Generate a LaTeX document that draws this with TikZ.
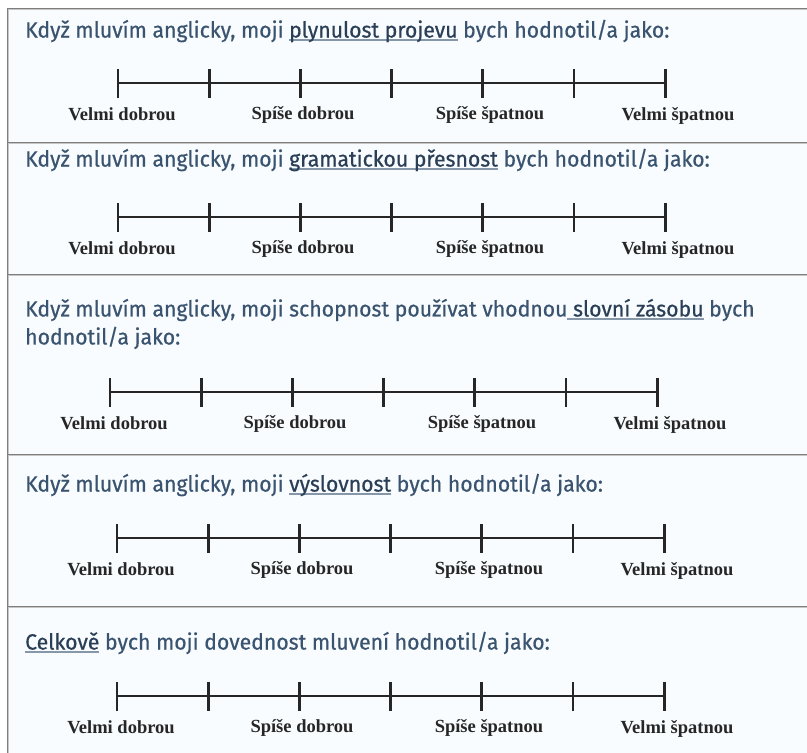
\documentclass[tikz,border=0pt]{standalone}
\usepackage{fontspec}
\setmainfont{Liberation Serif}
\newfontfamily\qfont[FakeStretch=0.965,FakeBold=0.6]{Fira Sans}
\definecolor{qtext}{HTML}{3A5470}
\definecolor{qdark}{HTML}{2A3E56}
\definecolor{ulc}{HTML}{8797AA}
\definecolor{boxbg}{HTML}{F8FCFF}
\definecolor{border}{HTML}{7E7E7E}
\newcommand\qul[1]{\setbox0\hbox{#1}\rlap{\textcolor{ulc}{\rule[-0.3ex]{\wd0}{1.8pt}}}\box0}
\newcommand\qdk[1]{\textcolor{qdark}{#1}}
\tikzset{
  question/.style={anchor=west, inner sep=0pt, text=qtext, font=\qfont\fontsize{22}{28}\selectfont, align=left},
  scalelab/.style={inner sep=0pt, text=black!85, font=\bfseries\fontsize{18.5}{20}\selectfont},
  scaleline/.style={line width=2.8pt, black!85},
  tickline/.style={line width=2.8pt, black!85},
  sep/.style={line width=2.6pt, border, postaction={draw, line width=0.7pt, color=gray!45}}
}
\newcommand\ratescale[3]{% name, x0, y
  \foreach \i in {0,...,6} {
    \coordinate (#1t\i) at ({#2+\i*91.2}, #3);
    \draw[tickline] ([yshift=-14.5pt]#1t\i) -- ([yshift=14.5pt]#1t\i);
  }
  \draw[scaleline] (#1t0) -- (#1t6);
  \node[scalelab] (#1a) at ({#2+4}, #3+31) {Velmi dobrou};
  \node[scalelab] (#1b) at ({#2+185}, #3+32) {Spíše dobrou};
  \node[scalelab] (#1c) at ({#2+372}, #3+32) {Spíše špatnou};
  \node[scalelab] (#1d) at ({#2+560}, #3+33) {Velmi špatnou};
}
\begin{document}
\begin{tikzpicture}[x=1pt,y=-1pt]
\useasboundingbox (0,0) rectangle (807,753);
\fill[white] (0,0) rectangle (807,753);
\fill[boxbg] (8,9) rectangle (815,760);
\draw[sep] (8,762) -- (8,9) -- (815,9);
\draw[sep] (8,143) -- (815,143);
\draw[sep] (8,275) -- (815,275);
\draw[sep] (8,455) -- (815,455);
\draw[sep] (8,607) -- (815,607);

\node[question] (q1) at (25,31) {Když mluvím anglicky, moji \qdk{\qul{plynulost projevu}} bych hodnotil/a jako:};
\ratescale{s1}{118}{83}

\node[question] (q2) at (25,160) {Když mluvím anglicky, moji \qdk{\qul{gramatickou přesnost}} bych hodnotil/a jako:};
\ratescale{s2}{118}{217}

\node[question] (q3) at (25,324) {Když mluvím anglicky, moji schopnost používat vhodnou\qdk{\qul{ slovní zásobu}} bych\\hodnotil/a jako:};
\ratescale{s3}{110}{392}

\node[question] (q4) at (25,485) {Když mluvím anglicky, moji \qdk{\qul{výslovnost}} bych hodnotil/a jako:};
\ratescale{s4}{117}{538}

\node[question] (q5) at (25,643) {\qdk{\qul{Celkově}} bych moji dovednost mluvení hodnotil/a jako:};
\ratescale{s5}{117}{696}
\end{tikzpicture}
\end{document}
